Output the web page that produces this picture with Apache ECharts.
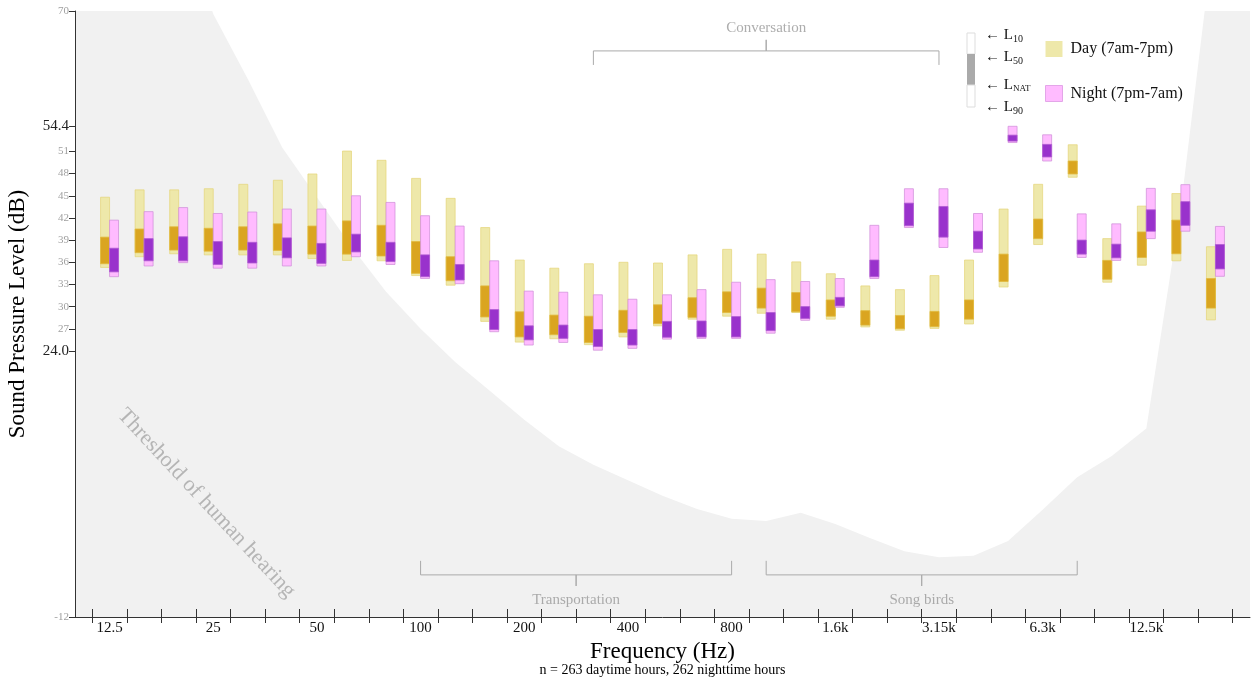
<!DOCTYPE html>
<html style="height: 100%">
<head>
	<meta charset="utf-8">
	<title></title>
	<script type="text/javascript" src="https://cdn.jsdelivr.net/npm/echarts@6/dist/echarts.min.js"></script>
</head>
<body style="height: 100%; margin: 0">
<div id="container" style="width: 1252px; height: 680px"></div>
<script type="text/javascript">
	// 1/3 octave bands
	var bands = ['12.5','16','20','25','31.5','40','50','63','80','100','125','160','200','250','315','400','500','630','800','1k','1.25k','1.6k','2k','2.5k','3.15k','4k','5k','6.3k','8k','10k','12.5k','16k','20k'];

	// daytime levels (dB)
	var dayL10  = [44.8,45.8,45.8,45.95,46.55,47.1,47.95,51.05,49.8,47.35,44.65,40.7,36.3,35.2,35.8,36.0,35.9,37.0,37.75,37.1,36.05,34.45,32.8,32.3,34.2,36.3,43.2,46.55,51.9,39.2,43.6,45.3,38.1];
	var dayL50  = [39.4,40.5,40.8,40.6,40.8,41.2,40.9,41.6,41.0,38.8,36.75,32.8,29.3,28.85,28.7,29.5,30.25,31.2,32.0,32.5,31.9,30.9,29.45,28.8,29.35,30.9,37.1,41.85,49.7,36.25,40.1,41.7,33.8];
	var dayLnat = [35.8,37.3,37.65,37.5,37.65,37.6,37.1,37.1,36.85,34.5,33.5,28.6,25.9,26.2,25.15,26.5,27.7,28.55,29.2,29.8,29.3,28.7,27.5,27.0,27.3,28.3,33.4,39.2,47.95,33.7,36.65,37.15,29.8];
	var dayL90  = [35.3,36.75,37.15,37.0,37.0,37.0,36.5,36.25,36.2,34.2,32.9,28.0,25.2,25.65,24.85,25.9,27.4,28.3,28.7,29.1,29.2,28.3,27.25,26.8,27.05,27.65,32.65,38.4,47.5,33.3,35.6,36.2,28.2];

	// nighttime levels (dB)
	var nightL10  = [41.7,42.85,43.4,42.6,42.8,43.2,43.2,45.0,44.1,42.3,40.9,36.2,32.1,31.95,31.6,31.0,31.6,32.3,33.3,33.65,33.4,33.8,41.0,45.95,45.95,42.6,54.4,53.25,42.55,41.2,46.0,46.5,40.85];
	var nightL50  = [37.9,39.2,39.45,38.8,38.7,39.3,38.55,39.8,38.7,37.0,35.7,29.6,27.4,27.5,26.9,26.9,28.0,28.05,28.65,29.2,30.0,31.25,36.3,44.0,43.55,40.2,53.2,51.95,39.0,38.45,43.1,44.2,38.4];
	var nightLnat = [34.7,36.2,36.2,35.7,35.9,36.6,35.85,37.4,36.1,34.05,33.6,26.9,25.5,25.7,24.6,24.8,25.85,25.9,25.9,26.75,28.4,30.1,34.05,40.95,39.4,37.8,52.4,50.25,37.1,36.6,40.2,41.0,35.1];
	var nightL90  = [34.05,35.5,35.95,35.2,35.2,35.5,35.5,36.75,35.7,33.8,33.1,26.6,24.8,25.15,24.1,24.35,25.6,25.7,25.7,26.4,28.15,29.9,33.8,40.7,38.0,37.35,52.2,49.7,36.65,36.25,39.2,40.2,34.1];

	// threshold of human hearing (band index, dB)
	var thresholdX = [-1,0,1,2,3,4,5,6,7,8,9,10,11,12,13,14,15,16,17,18,19,20,21,22,23,24,25,26,27,28,29,30,31,32,33];
	var thresholdY = [125,110,97,84,69.6,60.8,51.5,44.8,38.1,32.0,27.0,22.5,18.6,14.7,11.1,8.6,6.5,4.4,2.6,1.3,1.0,2.1,0.6,-1.3,-3.1,-3.9,-3.7,-1.7,2.5,6.9,9.8,13.5,43.5,82,97];

	// source ranges (band index from / to, dB level of bracket)
	var rangeNames = ['Conversation','Transportation','Song birds'];
	var rangeFrom  = [14, 9, 19];
	var rangeTo    = [24, 18, 28];
	var rangeLevel = [64.6, -6.3, -6.3];
	var rangeText  = [67.7, -9.7, -9.7];

	var yTicks = [70,54.4,51,48,45,42,39,36,33,30,27,24,-12];
	var yMarked = [54.4, 24];
	var labelStep = 3;

	var serif = '"Liberation Serif", "DejaVu Serif", serif';

	var xTicks = [];
	for (var i = 0; i < bands.length; i++) xTicks.push(i - 0.5);
	xTicks.push(bands.length - 0.5);
	var xLabels = [];
	for (var i = 0; i < bands.length; i += labelStep) xLabels.push(i);

	function levels(a, b, c, d) {
		var out = [];
		for (var i = 0; i < bands.length; i++) out.push([i, a[i], b[i], c[i], d[i]]);
		return out;
	}

	function barRenderer(side, light, lightStroke, dark, darkStroke) {
		return function (params, api) {
			var i = api.value(0);
			var top = api.coord([i, api.value(1)]);
			var mid = api.coord([i, api.value(2)]);
			var nat = api.coord([i, api.value(3)]);
			var bot = api.coord([i, api.value(4)]);
			var w = api.size([0.26, 0])[0];
			var x = side < 0 ? top[0] - w : top[0];
			return {
				type: 'group',
				children: [
					{type: 'rect', shape: {x: x, y: top[1], width: w, height: bot[1] - top[1]},
						style: {fill: light, stroke: lightStroke, lineWidth: 1}},
					{type: 'rect', shape: {x: x, y: mid[1], width: w, height: nat[1] - mid[1]},
						style: {fill: dark, stroke: darkStroke, lineWidth: 1}}
				]
			};
		};
	}

	var thresholdData = [];
	for (var i = 0; i < thresholdX.length; i++) thresholdData.push([thresholdX[i], thresholdY[i]]);

	var series = [
		{
			type: 'line', name: 'threshold', data: thresholdData, symbol: 'none', silent: true,
			lineStyle: {width: 0}, areaStyle: {color: '#F1F1F1', opacity: 1, origin: 'start'}, z: 0
		},
		{
			type: 'scatter', name: 'thresholdText', silent: true, symbolSize: 0, z: 1,
			data: [[2.8, 3.4]],
			label: {show: true, position: 'inside', formatter: 'Threshold of human hearing', rotate: -47,
				fontFamily: serif, fontSize: 22, color: '#A6A6A6', align: 'center', verticalAlign: 'middle'}
		}
	];

	for (var r = 0; r < rangeNames.length; r++) {
		var up = rangeLevel[r] > 0 ? -1 : 1;   // end ticks point toward the data
		var f = rangeFrom[r], t = rangeTo[r], y = rangeLevel[r], m = (f + t) / 2;
		series.push({
			type: 'line', silent: true, symbol: 'none', z: 2,
			lineStyle: {color: '#AAAAAA', width: 1},
			data: [[f, y + up * 1.9], [f, y], [m, y], [m, y - up * 1.5], [m, y], [t, y], [t, y + up * 1.9]]
		});
		series.push({
			type: 'scatter', silent: true, symbolSize: 0, z: 2,
			data: [[m, rangeText[r]]],
			label: {show: true, position: 'inside', formatter: rangeNames[r],
				fontFamily: serif, fontSize: 15, color: '#999999'}
		});
	}

	series.push({
		type: 'custom', name: 'Day (7am-7pm)', z: 5,
		itemStyle: {color: '#EEE8AA'},
		data: levels(dayL10, dayL50, dayLnat, dayL90),
		encode: {x: 0, y: [1, 2, 3, 4]},
		renderItem: barRenderer(-1, '#EEE8AA', 'rgba(228,212,120,0.7)', '#DAA520', 'rgba(225,185,60,0.8)')
	});
	series.push({
		type: 'custom', name: 'Night (7pm-7am)', z: 6,
		itemStyle: {color: '#FFBBFF'},
		data: levels(nightL10, nightL50, nightLnat, nightL90),
		encode: {x: 0, y: [1, 2, 3, 4]},
		renderItem: barRenderer(1, '#FFBBFF', 'rgba(205,140,215,0.7)', '#9932CC', 'rgba(175,90,210,0.8)')
	});

	var option = {
		animation: false,
		backgroundColor: '#FFFFFF',
		grid: {left: 75, right: 2, top: 11, bottom: 63, outerBoundsMode: 'none', containLabel: false},
		legend: {
			left: 1045, top: 41, orient: 'vertical', padding: 0,
			itemWidth: 17, itemHeight: 16, itemGap: 28, icon: 'rect',
			textStyle: {fontFamily: serif, fontSize: 16, color: '#111', padding: [0, 0, 0, 3]},
			data: [
				{name: 'Day (7am-7pm)', itemStyle: {color: '#EEE8AA'}},
				{name: 'Night (7pm-7am)', itemStyle: {color: '#FFBBFF', borderColor: '#E3A6E8', borderWidth: 1}}
			]
		},
		xAxis: [
			{
				type: 'value', min: -1, max: 33, position: 'bottom',
				splitLine: {show: false},
				axisLine: {show: true, onZero: false, lineStyle: {color: '#333'}},
				axisTick: {show: true, customValues: xTicks, length: 6, lineStyle: {color: '#333'}},
				axisLabel: {
					customValues: xLabels, margin: 4,
					formatter: function (v) { return bands[Math.round(v)]; },
					fontFamily: serif, fontSize: 15, color: '#111'
				},
				name: '{a|Frequency (Hz)}\n{b|n = 263 daytime hours, 262 nighttime hours}',
				nameLocation: 'middle', nameGap: 22,
				nameTextStyle: {
					rich: {
						a: {fontFamily: serif, fontSize: 23, color: '#000', lineHeight: 22, align: 'center'},
						b: {fontFamily: serif, fontSize: 14, color: '#000', lineHeight: 14, align: 'center'}
					}
				}
			},
			{
				type: 'value', min: -1, max: 33, position: 'bottom',
				splitLine: {show: false},
				axisLine: {show: false, onZero: false},
				axisTick: {show: true, inside: true, customValues: xTicks, length: 8, lineStyle: {color: '#333'}},
				axisLabel: {show: false}
			}
		],
		yAxis: {
			type: 'value', min: -12, max: 70,
			splitLine: {show: false},
			axisLine: {show: true, onZero: false, lineStyle: {color: '#333'}},
			axisTick: {show: true, customValues: yTicks, length: 6, lineStyle: {color: '#333'}},
			axisLabel: {
				customValues: yTicks, margin: 6,
				formatter: function (v) {
					for (var k = 0; k < yMarked.length; k++) {
						if (Math.abs(v - yMarked[k]) < 1e-6) return '{big|' + v.toFixed(1) + '}';
					}
					return '{small|' + v + '}';
				},
				rich: {
					big: {fontFamily: serif, fontSize: 15, color: '#222'},
					small: {fontFamily: serif, fontSize: 11, color: '#A0A0A0'}
				}
			},
			name: 'Sound Pressure Level (dB)', nameLocation: 'middle', nameGap: 46,
			nameTextStyle: {fontFamily: serif, fontSize: 23, color: '#000'}
		},
		graphic: [
			{type: 'rect', shape: {x: 967, y: 33, width: 8, height: 21}, style: {fill: '#fff', stroke: '#DDD'}},
			{type: 'rect', shape: {x: 967, y: 54, width: 8, height: 31}, style: {fill: '#AAAAAA'}},
			{type: 'rect', shape: {x: 967, y: 85, width: 8, height: 22}, style: {fill: '#fff', stroke: '#DDD'}},
			{type: 'text', x: 985, y: 35, style: {text: '\u2190 L{s|10}', fontFamily: serif, fontSize: 15, fill: '#111', verticalAlign: 'middle',
				rich: {s: {fontFamily: serif, fontSize: 10, verticalAlign: 'bottom', padding: [8, 0, 0, 0]}}}},
			{type: 'text', x: 985, y: 57, style: {text: '\u2190 L{s|50}', fontFamily: serif, fontSize: 15, fill: '#111', verticalAlign: 'middle',
				rich: {s: {fontFamily: serif, fontSize: 10, verticalAlign: 'bottom', padding: [8, 0, 0, 0]}}}},
			{type: 'text', x: 985, y: 85, style: {text: '\u2190 L{s|NAT}', fontFamily: serif, fontSize: 15, fill: '#111', verticalAlign: 'middle',
				rich: {s: {fontFamily: serif, fontSize: 9, verticalAlign: 'bottom', padding: [8, 0, 0, 0]}}}},
			{type: 'text', x: 985, y: 107, style: {text: '\u2190 L{s|90}', fontFamily: serif, fontSize: 15, fill: '#111', verticalAlign: 'middle',
				rich: {s: {fontFamily: serif, fontSize: 10, verticalAlign: 'bottom', padding: [8, 0, 0, 0]}}}}
		],
		series: series
	};

	var myChart = echarts.init(document.getElementById('container'));
	myChart.setOption(option);
</script>
</body>
</html>
